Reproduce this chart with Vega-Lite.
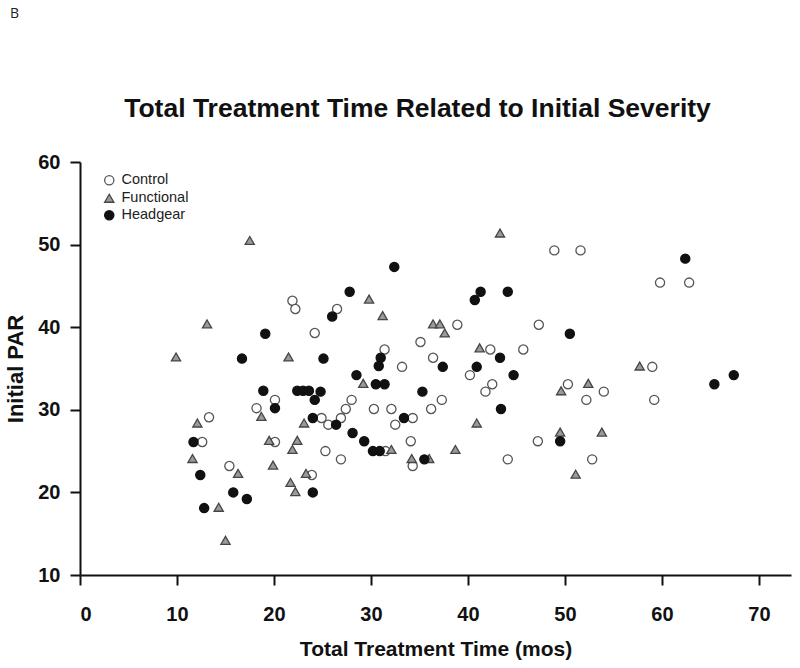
{
  "$schema": "https://vega.github.io/schema/vega-lite/v6.json",
  "background": "white",
  "padding": {"left": 4, "top": 6, "right": 5, "bottom": 5},
  "title": {"text": "B", "anchor": "start", "frame": "group", "fontSize": 14, "fontWeight": "normal", "font": "Open Sans", "color": "#222222", "dx": -70, "offset": 75},
  "config": {"view": {"stroke": null}, "font": "Liberation Sans"},
  "vconcat": [
    {
      "width": 711,
      "height": 413,
      "title": {"text": "Total Treatment Time Related to Initial Severity", "fontSize": 26.5, "font": "Liberation Sans", "fontWeight": "bold", "anchor": "middle", "dx": -18, "offset": 30, "color": "#111111"},
      "data": {
        "values": [
          {"g": "Control", "t": 21.9, "p": 43.2}, {"g": "Control", "t": 22.2, "p": 42.2}, {"g": "Control", "t": 20.1, "p": 31.2}, {"g": "Control", "t": 18.2, "p": 30.2},
          {"g": "Control", "t": 13.3, "p": 29.1}, {"g": "Control", "t": 12.6, "p": 26.1}, {"g": "Control", "t": 20.1, "p": 26.1}, {"g": "Control", "t": 15.4, "p": 23.2},
          {"g": "Control", "t": 26.5, "p": 42.2}, {"g": "Control", "t": 24.2, "p": 39.3}, {"g": "Control", "t": 35.1, "p": 38.2}, {"g": "Control", "t": 31.4, "p": 37.3},
          {"g": "Control", "t": 36.4, "p": 36.3}, {"g": "Control", "t": 33.2, "p": 35.2}, {"g": "Control", "t": 38.9, "p": 40.3}, {"g": "Control", "t": 42.3, "p": 37.3},
          {"g": "Control", "t": 40.2, "p": 34.2}, {"g": "Control", "t": 42.5, "p": 33.1}, {"g": "Control", "t": 41.8, "p": 32.2}, {"g": "Control", "t": 28.0, "p": 31.2},
          {"g": "Control", "t": 27.4, "p": 30.1}, {"g": "Control", "t": 30.3, "p": 30.1}, {"g": "Control", "t": 32.1, "p": 30.1}, {"g": "Control", "t": 36.2, "p": 30.1},
          {"g": "Control", "t": 37.3, "p": 31.2}, {"g": "Control", "t": 24.9, "p": 29.0}, {"g": "Control", "t": 26.9, "p": 29.0}, {"g": "Control", "t": 25.6, "p": 28.2},
          {"g": "Control", "t": 34.3, "p": 29.0}, {"g": "Control", "t": 32.5, "p": 28.2}, {"g": "Control", "t": 34.1, "p": 26.2}, {"g": "Control", "t": 25.3, "p": 25.0},
          {"g": "Control", "t": 26.9, "p": 24.0}, {"g": "Control", "t": 31.5, "p": 25.0}, {"g": "Control", "t": 34.3, "p": 23.2}, {"g": "Control", "t": 44.1, "p": 24.0},
          {"g": "Control", "t": 47.2, "p": 26.2}, {"g": "Control", "t": 52.8, "p": 24.0}, {"g": "Control", "t": 23.9, "p": 22.1}, {"g": "Control", "t": 48.9, "p": 49.3},
          {"g": "Control", "t": 51.6, "p": 49.3}, {"g": "Control", "t": 59.8, "p": 45.4}, {"g": "Control", "t": 62.8, "p": 45.4}, {"g": "Control", "t": 47.3, "p": 40.3},
          {"g": "Control", "t": 45.7, "p": 37.3}, {"g": "Control", "t": 59.0, "p": 35.2}, {"g": "Control", "t": 50.3, "p": 33.1}, {"g": "Control", "t": 54.0, "p": 32.2},
          {"g": "Control", "t": 52.2, "p": 31.2}, {"g": "Control", "t": 59.2, "p": 31.2},
          {"g": "Functional", "t": 17.5, "p": 50.5}, {"g": "Functional", "t": 13.1, "p": 40.4}, {"g": "Functional", "t": 9.9, "p": 36.4}, {"g": "Functional", "t": 21.5, "p": 36.4},
          {"g": "Functional", "t": 18.7, "p": 29.2}, {"g": "Functional", "t": 12.1, "p": 28.4}, {"g": "Functional", "t": 19.5, "p": 26.3}, {"g": "Functional", "t": 22.4, "p": 26.3},
          {"g": "Functional", "t": 21.9, "p": 25.2}, {"g": "Functional", "t": 11.6, "p": 24.1}, {"g": "Functional", "t": 16.3, "p": 22.3}, {"g": "Functional", "t": 19.9, "p": 23.3},
          {"g": "Functional", "t": 21.7, "p": 21.2}, {"g": "Functional", "t": 22.2, "p": 20.1}, {"g": "Functional", "t": 14.3, "p": 18.2}, {"g": "Functional", "t": 15.0, "p": 14.2},
          {"g": "Functional", "t": 43.3, "p": 51.4}, {"g": "Functional", "t": 29.8, "p": 43.4}, {"g": "Functional", "t": 31.2, "p": 41.4}, {"g": "Functional", "t": 36.4, "p": 40.4},
          {"g": "Functional", "t": 37.1, "p": 40.4}, {"g": "Functional", "t": 37.6, "p": 39.3}, {"g": "Functional", "t": 41.2, "p": 37.5}, {"g": "Functional", "t": 29.2, "p": 33.2},
          {"g": "Functional", "t": 23.1, "p": 28.4}, {"g": "Functional", "t": 40.9, "p": 28.4}, {"g": "Functional", "t": 32.1, "p": 25.2}, {"g": "Functional", "t": 34.2, "p": 24.1},
          {"g": "Functional", "t": 36.0, "p": 24.1}, {"g": "Functional", "t": 38.7, "p": 25.2}, {"g": "Functional", "t": 49.5, "p": 27.3}, {"g": "Functional", "t": 51.1, "p": 22.2},
          {"g": "Functional", "t": 23.3, "p": 22.3}, {"g": "Functional", "t": 57.7, "p": 35.3}, {"g": "Functional", "t": 49.6, "p": 32.3}, {"g": "Functional", "t": 52.4, "p": 33.2},
          {"g": "Functional", "t": 53.8, "p": 27.3},
          {"g": "Headgear", "t": 19.1, "p": 39.2}, {"g": "Headgear", "t": 16.7, "p": 36.2}, {"g": "Headgear", "t": 18.9, "p": 32.3}, {"g": "Headgear", "t": 22.4, "p": 32.3},
          {"g": "Headgear", "t": 23.0, "p": 32.3}, {"g": "Headgear", "t": 23.6, "p": 32.3}, {"g": "Headgear", "t": 24.8, "p": 32.2}, {"g": "Headgear", "t": 20.1, "p": 30.2},
          {"g": "Headgear", "t": 11.7, "p": 26.1}, {"g": "Headgear", "t": 12.4, "p": 22.1}, {"g": "Headgear", "t": 15.8, "p": 20.0}, {"g": "Headgear", "t": 17.2, "p": 19.2},
          {"g": "Headgear", "t": 12.8, "p": 18.1}, {"g": "Headgear", "t": 32.4, "p": 47.3}, {"g": "Headgear", "t": 27.8, "p": 44.3}, {"g": "Headgear", "t": 26.0, "p": 41.3},
          {"g": "Headgear", "t": 41.3, "p": 44.3}, {"g": "Headgear", "t": 40.7, "p": 43.3}, {"g": "Headgear", "t": 44.1, "p": 44.3}, {"g": "Headgear", "t": 31.0, "p": 36.3},
          {"g": "Headgear", "t": 30.8, "p": 35.3}, {"g": "Headgear", "t": 25.1, "p": 36.2}, {"g": "Headgear", "t": 37.4, "p": 35.2}, {"g": "Headgear", "t": 43.3, "p": 36.3},
          {"g": "Headgear", "t": 40.9, "p": 35.2}, {"g": "Headgear", "t": 44.7, "p": 34.2}, {"g": "Headgear", "t": 28.5, "p": 34.2}, {"g": "Headgear", "t": 30.5, "p": 33.1},
          {"g": "Headgear", "t": 31.4, "p": 33.1}, {"g": "Headgear", "t": 35.3, "p": 32.2}, {"g": "Headgear", "t": 24.2, "p": 31.2}, {"g": "Headgear", "t": 43.4, "p": 30.1},
          {"g": "Headgear", "t": 24.0, "p": 29.0}, {"g": "Headgear", "t": 26.4, "p": 28.2}, {"g": "Headgear", "t": 33.4, "p": 29.0}, {"g": "Headgear", "t": 28.1, "p": 27.2},
          {"g": "Headgear", "t": 29.3, "p": 26.2}, {"g": "Headgear", "t": 30.2, "p": 25.0}, {"g": "Headgear", "t": 30.9, "p": 25.0}, {"g": "Headgear", "t": 35.5, "p": 24.0},
          {"g": "Headgear", "t": 49.5, "p": 26.2}, {"g": "Headgear", "t": 24.0, "p": 20.0}, {"g": "Headgear", "t": 62.4, "p": 48.3}, {"g": "Headgear", "t": 50.5, "p": 39.2},
          {"g": "Headgear", "t": 65.4, "p": 33.1}, {"g": "Headgear", "t": 67.4, "p": 34.2}
        ]
      },
      "mark": {"type": "point", "filled": true, "opacity": 1, "strokeWidth": 1.3, "size": 84},
      "encoding": {
        "x": {
          "field": "t", "type": "quantitative",
          "scale": {"domain": [0, 73.3], "nice": false, "zero": false},
          "axis": {"title": "Total Treatment Time (mos)", "values": [0, 10, 20, 30, 40, 50, 60, 70], "grid": false,
            "domainWidth": 2, "domainColor": "#111111", "tickWidth": 2, "tickColor": "#111111", "tickSize": 10,
            "labelFontSize": 20, "labelFontWeight": "bold", "labelColor": "#111111", "labelPadding": 19,
            "titleFontSize": 21, "titleFontWeight": "bold", "titleColor": "#111111", "titlePadding": 14}
        },
        "y": {
          "field": "p", "type": "quantitative",
          "scale": {"domain": [10, 60], "nice": false, "zero": false},
          "axis": {"title": "Initial PAR", "values": [10, 20, 30, 40, 50, 60], "grid": false,
            "domainWidth": 2, "domainColor": "#111111", "tickWidth": 2, "tickColor": "#111111", "tickSize": 10,
            "labelFontSize": 20, "labelFontWeight": "bold", "labelColor": "#111111", "labelPadding": 10,
            "titleFontSize": 22, "titleFontWeight": "bold", "titleColor": "#111111", "titlePadding": 10}
        },
        "shape": {"field": "g", "type": "nominal",
          "scale": {"domain": ["Control", "Functional", "Headgear"], "range": ["circle", "triangle-up", "circle"]},
          "legend": {"title": null, "orient": "none", "legendX": 22, "legendY": 11, "padding": 0, "labelFontSize": 14.5, "labelFont": "Liberation Sans", "labelColor": "#222222", "symbolSize": 85, "symbolStrokeWidth": 1.3, "rowPadding": 2, "labelOffset": 5}
        },
        "fill": {"field": "g", "type": "nominal",
          "scale": {"domain": ["Control", "Functional", "Headgear"], "range": ["#ffffff", "#9a9a9a", "#111111"]},
          "legend": {"title": null, "orient": "none", "legendX": 22, "legendY": 11, "padding": 0, "labelFontSize": 14.5, "labelFont": "Liberation Sans", "labelColor": "#222222", "symbolSize": 85, "symbolStrokeWidth": 1.3, "rowPadding": 2, "labelOffset": 5}
        },
        "stroke": {"field": "g", "type": "nominal",
          "scale": {"domain": ["Control", "Functional", "Headgear"], "range": ["#555555", "#454545", "#111111"]},
          "legend": {"title": null, "orient": "none", "legendX": 22, "legendY": 11, "padding": 0, "labelFontSize": 14.5, "labelFont": "Liberation Sans", "labelColor": "#222222", "symbolSize": 85, "symbolStrokeWidth": 1.3, "rowPadding": 2, "labelOffset": 5}
        }
      }
    }
  ]
}
